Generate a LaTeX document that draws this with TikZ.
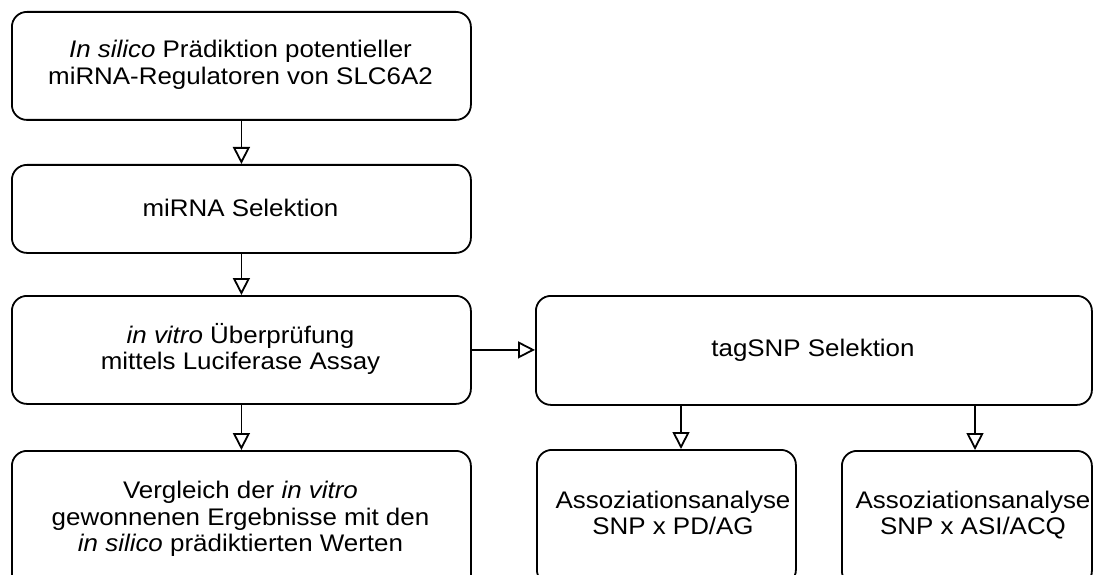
\documentclass[tikz,border=0pt]{standalone}
\usepackage{fontspec}
\setmainfont{Liberation Sans}[FakeStretch=1.08]
\usetikzlibrary{arrows.meta}
\begin{document}
\begin{tikzpicture}[x=1pt,y=-1pt,
  box/.style={draw, line width=1.8pt, rounded corners=15pt, anchor=north west, inner sep=0pt},
  lbl/.style={align=center, inner sep=0pt, font=\fontsize{24}{26.5}\selectfont},
  flow/.style={line width=1.8pt, -{Triangle[open,length=17pt,width=17pt,line width=1.8pt]}}
]
\useasboundingbox (0,0) rectangle (1093,575);
\clip (0,0) rectangle (1093,575);

% process boxes
\node[box, minimum width=459pt, minimum height=108pt] (A) at (11,11) {};
\node[box, minimum width=459pt, minimum height=88pt]  (B) at (11,164) {};
\node[box, minimum width=459pt, minimum height=108pt] (C) at (11,295) {};
\node[box, minimum width=459pt, minimum height=140pt] (D) at (11,450) {};
\node[box, minimum width=556pt, minimum height=109pt] (E) at (535,295) {};
\node[box, minimum width=259pt, minimum height=135pt] (F) at (536,449) {};
\node[box, minimum width=250pt, minimum height=135pt] (G) at (841,450) {};

% box texts
\node[lbl] (tA) at (240.5,65) {\textit{In silico} Prädiktion potentieller\\miRNA-Regulatoren von SLC6A2};
\node[lbl] (tB) at (240.5,208) {miRNA Selektion};
\node[lbl] (tC) at (240.5,349) {\textit{in vitro} Überprüfung\\mittels Luciferase Assay};
\node[lbl] (tD) at (240.5,519) {Vergleich der \textit{in vitro}\\gewonnenen Ergebnisse mit den\\\textit{in silico} prädiktierten Werten};
\node[lbl] (tE) at (813,350) {tagSNP Selektion};
\node[lbl] (tF) at (673,513) {Assoziationsanalyse\\SNP x PD/AG};
\node[lbl] (tG) at (973,515) {Assoziationsanalyse\\SNP x ASI/ACQ};

% connectors
\draw[flow] (A.south) -- (B.north);
\draw[flow] (B.south) -- (C.north);
\draw[flow] (C.south) -- (D.north);
\draw[flow] (C.east) -- (C.east -| E.west);
\coordinate (eF) at (681,404);
\coordinate (eG) at (975,404);
\draw[flow] (eF) -- (eF |- F.north);
\draw[flow] (eG) -- (eG |- G.north);
\end{tikzpicture}
\end{document}
